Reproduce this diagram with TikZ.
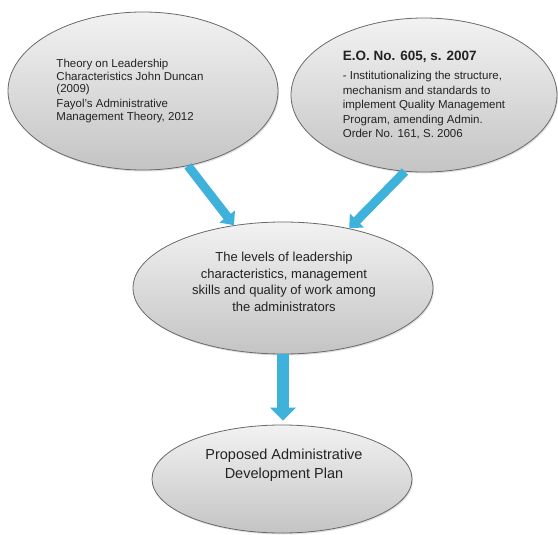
\documentclass[tikz,border=0pt]{standalone}
\usepackage{fontspec}
\setmainfont{Liberation Sans}
\usetikzlibrary{shapes.geometric,arrows.meta,shadows}
\definecolor{ellTop}{RGB}{242,242,242}
\definecolor{ellBot}{RGB}{196,196,196}
\definecolor{ellLine}{RGB}{105,105,105}
\definecolor{arrBlue}{RGB}{62,178,218}
\definecolor{txt}{RGB}{35,35,35}
\tikzset{
  oval/.style={ellipse, draw=ellLine, line width=0.8pt, inner sep=0pt,
    top color=ellTop, bottom color=ellBot,
    drop shadow={opacity=0.25, shadow xshift=1pt, shadow yshift=-1.5pt}},
  txtbox/.style={inner sep=0pt, text=txt, align=left},
  diagarrow/.style={draw=arrBlue, line width=9pt,
    -{Triangle[width=19pt,length=11pt]}},
  downarrow/.style={draw=arrBlue, line width=12pt,
    -{Triangle[width=25pt,length=13pt]}}
}
\begin{document}
\begin{tikzpicture}[x=1pt,y=-1pt]
\useasboundingbox (0,0) rectangle (558,535);
% ellipses
\node[oval, minimum width=270pt, minimum height=158pt] (e1) at (143,91) {};
\node[oval, minimum width=266pt, minimum height=154pt] (e2) at (424,95) {};
\node[oval, minimum width=300pt, minimum height=132pt] (e3) at (283,288) {};
\node[oval, minimum width=260pt, minimum height=108pt] (e4) at (282,479) {};
% texts
\node[txtbox, font={\fontsize{11.5}{12.5}\selectfont}] (t1) at (130,91)
  {Theory on Leadership\\Characteristics John Duncan\\(2009)\\[2.5pt]%
   Fayol's Administrative\\Management Theory, 2012};
\node[txtbox, font={\fontsize{11.5}{14.5}\selectfont}] (t2) at (424,95)
  {{\fontsize{13.5}{16}\selectfont\bfseries E.O. No. 605, s. 2007}\\[5pt]%
   - Institutionalizing the structure,\\mechanism and standards to\\%
   implement Quality Management\\Program, amending Admin.\\%
   Order No. 161, S. 2006};
\node[txtbox, align=center, font={\fontsize{13}{16.7}\selectfont}] (t3) at (284,282)
  {The levels of leadership\\characteristics, management\\%
   skills and quality of work among\\the administrators};
\node[txtbox, align=center, font={\fontsize{14.5}{19}\selectfont}] (t4) at (284,465)
  {Proposed Administrative\\Development Plan};
% arrows
\draw[diagarrow] (e1.-59) -- (e3.128);
\draw[diagarrow] (e2.256) -- (e3.42);
\draw[downarrow, shorten >=4pt] (e3.south) -- (e3.south |- e4.north);
\end{tikzpicture}
\end{document}
